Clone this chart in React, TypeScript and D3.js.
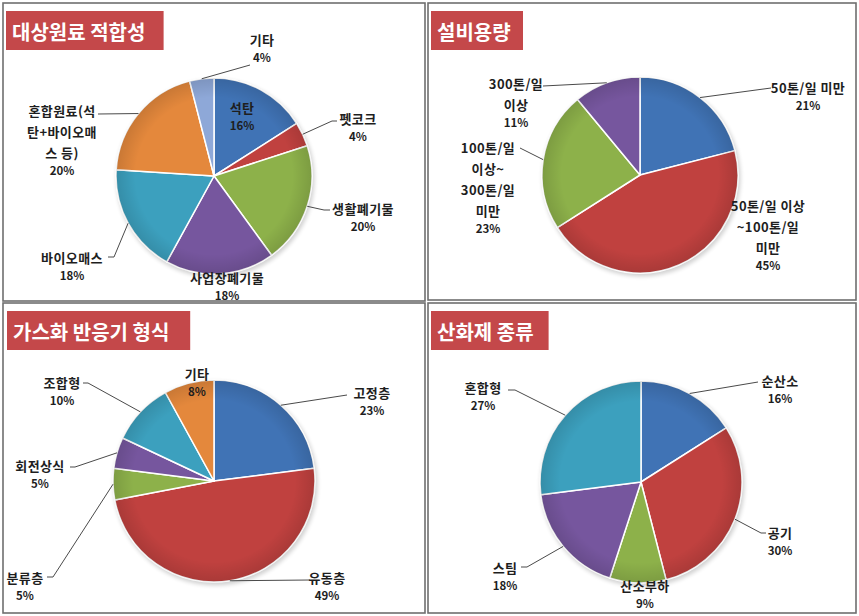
import { useEffect } from 'react'
import { arc as d3Arc, pie as d3Pie } from 'd3'

const WIDTH = 859
const HEIGHT = 616
const FONT = '"Noto Sans CJK KR", "Noto Sans", sans-serif'

// 대상원료 적합성
const FEED_NAMES = ['석탄', '펫코크', '생활폐기물', '사업장폐기물', '바이오매스', '혼합원료(석\n탄+바이오매\n스 등)', '기타']
const FEED_SHARES = [16, 4, 20, 18, 18, 20, 4]

// 설비용량
const CAPACITY_NAMES = ['50톤/일 미만', '50톤/일 이상\n~100톤/일\n미만', '100톤/일\n이상~\n300톤/일\n미만', '300톤/일\n이상']
const CAPACITY_SHARES = [21, 45, 23, 11]

// 가스화 반응기 형식
const REACTOR_NAMES = ['고정층', '유동층', '분류층', '회전상식', '조합형', '기타']
const REACTOR_SHARES = [23, 49, 5, 5, 10, 8]

// 산화제 종류
const OXIDANT_NAMES = ['순산소', '공기', '산소부하', '스팀', '혼합형']
const OXIDANT_SHARES = [16, 30, 9, 18, 27]

const COLORS = ['#4073B5', '#C0413F', '#8DB14A', '#76569E', '#3CA0BE', '#E4883C', '#8EA8D8']

interface LabelSpot {
  at: [number, number] // first line centre, relative to pie centre
  end?: [number, number] // leader end next to the label
  elbow?: number // short horizontal piece before the label
}

interface PanelSpec {
  title: string
  names: string[]
  values: number[]
  frame: [number, number, number, number]
  titleAt: [number, number]
  center: [number, number]
  radius: number
  lineHeight: number
  pctGap: number
  spots: LabelSpot[]
}

const PANELS: PanelSpec[] = [
  {
    title: '대상원료 적합성',
    names: FEED_NAMES,
    values: FEED_SHARES,
    frame: [3, 3, 422, 298],
    titleAt: [6, 11],
    center: [214, 176],
    radius: 98,
    lineHeight: 21,
    pctGap: 18,
    spots: [
      { at: [28, -69] },
      { at: [144, -58], end: [123, -55], elbow: -5 },
      { at: [149, 32], end: [116, 34], elbow: -6 },
      { at: [13, 101] },
      { at: [-142, 81], end: [-106, 81], elbow: 6 },
      { at: [-152, -66], end: [-116, -62] },
      { at: [48, -137], end: [36, -111] },
    ],
  },
  {
    title: '설비용량',
    names: CAPACITY_NAMES,
    values: CAPACITY_SHARES,
    frame: [428, 3, 428, 297],
    titleAt: [431, 11],
    center: [640, 175],
    radius: 98,
    lineHeight: 21,
    pctGap: 18,
    spots: [
      { at: [168, -88], end: [131, -87] },
      { at: [128, 30] },
      { at: [-152, -28], end: [-120, -27] },
      { at: [-124, -92], end: [-97, -89] },
    ],
  },
  {
    title: '가스화 반응기 형식',
    names: REACTOR_NAMES,
    values: REACTOR_SHARES,
    frame: [3, 303, 422, 310],
    titleAt: [7, 311],
    center: [214, 481],
    radius: 101,
    lineHeight: 21,
    pctGap: 18,
    spots: [
      { at: [158, -89], end: [133, -86] },
      { at: [113, 96], end: [96, 99] },
      { at: [-189, 96], end: [-167, 96], elbow: 6 },
      { at: [-174, -16], end: [-144, -14], elbow: 5 },
      { at: [-152, -99], end: [-131, -98], elbow: 5 },
      { at: [-17, -108] },
    ],
  },
  {
    title: '산화제 종류',
    names: OXIDANT_NAMES,
    values: OXIDANT_SHARES,
    frame: [428, 303, 428, 310],
    titleAt: [431, 311],
    center: [641, 482],
    radius: 101,
    lineHeight: 21,
    pctGap: 18,
    spots: [
      { at: [139, -102], end: [117, -100] },
      { at: [139, 50], end: [125, 51], elbow: -5 },
      { at: [4, 103] },
      { at: [-136, 85], end: [-120, 85], elbow: 6 },
      { at: [-158, -95], end: [-133, -92], elbow: 7 },
    ],
  },
]

function titleWidth(text: string, size: number) {
  let w = 0
  for (const ch of text) w += ch === ' ' ? size * 0.28 : size
  return w
}

function PiePanel({ spec, index }: { spec: PanelSpec; index: number }) {
  const [fx, fy, fw, fh] = spec.frame
  const [cx, cy] = spec.center
  const r = spec.radius
  const arcs = d3Pie<number>().sort(null).value((d) => d)(spec.values)
  const arc = d3Arc<(typeof arcs)[number]>().innerRadius(0).outerRadius(r)
  const titleSize = 20
  const tw = titleWidth(spec.title, titleSize) + 12

  return (
    <g>
      <rect x={fx} y={fy} width={fw} height={fh} fill="#fff" stroke="#6f6f6f" strokeWidth={1.6} />
      <rect x={spec.titleAt[0]} y={spec.titleAt[1]} width={tw} height={39} fill="#C4484A" />
      <text
        x={spec.titleAt[0] + 6}
        y={spec.titleAt[1] + 20}
        fill="#fff"
        fontSize={titleSize}
        fontWeight={700}
        dominantBaseline="central"
        fontFamily={FONT}
      >
        {spec.title}
      </text>
      <g transform={`translate(${cx},${cy})`}>
        <circle r={r + 1} fill="#000" opacity={0.18} filter={`url(#soft${index})`} transform="translate(1.5,2.5)" />
        {arcs.map((a, i) => (
          <path
            key={spec.names[i]}
            d={arc(a) ?? undefined}
            fill={COLORS[i]}
            stroke="#fff"
            strokeWidth={1.5}
            strokeLinejoin="round"
          />
        ))}
        <circle r={r} fill={`url(#shade${index})`} pointerEvents="none" />
        {arcs.map((a, i) => {
          const spot = spec.spots[i]
          if (!spot.end) return null
          const mid = (a.startAngle + a.endAngle) / 2
          const sx = r * Math.sin(mid)
          const sy = -r * Math.cos(mid)
          const pts: [number, number][] = [[sx, sy]]
          if (spot.elbow) pts.push([spot.end[0] + spot.elbow, spot.end[1]])
          pts.push(spot.end)
          return (
            <polyline
              key={`lead-${i}`}
              points={pts.map((p) => p.join(',')).join(' ')}
              fill="none"
              stroke="#4a4a4a"
              strokeWidth={1}
            />
          )
        })}
        {arcs.map((a, i) => {
          const spot = spec.spots[i]
          const lines = spec.names[i].split('\n')
          const pctY = spot.at[1] + (lines.length - 1) * spec.lineHeight + spec.pctGap
          return (
            <g key={`label-${i}`} fontFamily={FONT} fontWeight={700} fill="#1e1e1e" textAnchor="middle">
              {lines.map((line, j) => (
                <text
                  key={j}
                  x={spot.at[0]}
                  y={spot.at[1] + j * spec.lineHeight}
                  fontSize={13}
                  letterSpacing={0.4}
                  dominantBaseline="central"
                >
                  {line}
                </text>
              ))}
              <text x={spot.at[0]} y={pctY} fontSize={11.5} dominantBaseline="central">
                {`${a.data}%`}
              </text>
            </g>
          )
        })}
      </g>
    </g>
  )
}

export default function App() {
  useEffect(() => {
    document.body.style.margin = '0'
  }, [])

  return (
    <svg width={WIDTH} height={HEIGHT} viewBox={`0 0 ${WIDTH} ${HEIGHT}`} style={{ display: 'block' }}>
      <defs>
        {PANELS.map((_, i) => (
          <g key={i}>
            <filter id={`soft${i}`} x="-20%" y="-20%" width="140%" height="140%">
              <feGaussianBlur stdDeviation={2} />
            </filter>
            <radialGradient id={`shade${i}`} cx="50%" cy="50%" r="50%">
              <stop offset="80%" stopColor="#000" stopOpacity={0} />
              <stop offset="100%" stopColor="#000" stopOpacity={0.12} />
            </radialGradient>
          </g>
        ))}
      </defs>
      <rect width={WIDTH} height={HEIGHT} fill="#fff" />
      {PANELS.map((spec, i) => (
        <PiePanel key={spec.title} spec={spec} index={i} />
      ))}
    </svg>
  )
}
